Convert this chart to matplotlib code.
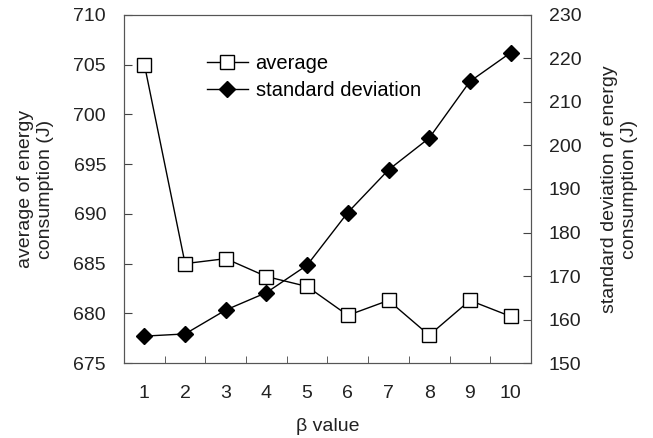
import matplotlib.pyplot as plt
import numpy as np

plt.rcParams['font.family'] = ['Liberation Sans', 'DejaVu Sans']

beta = [1, 2, 3, 4, 5, 6, 7, 8, 9, 10]
avg_energy = [705.0, 685.0, 685.5, 683.7, 682.7, 679.8, 681.3, 677.8, 681.3, 679.7]
std_energy = [156.2, 156.7, 162.2, 166.2, 172.5, 184.6, 194.4, 201.7, 214.7, 221.3]

fig = plt.figure(figsize=(6.53, 4.38), dpi=100)
ax = fig.add_axes([0.19, 0.171, 0.623, 0.795])
ax2 = ax.twinx()

l1, = ax.plot(beta, avg_energy, color='black', lw=1, marker='s', ms=10,
              mfc='white', mec='black', mew=1, label='average')
l2, = ax2.plot(beta, std_energy, color='black', lw=1, marker='D', ms=8,
               mfc='black', mec='black', label='standard deviation')

ax.set_xlim(0.5, 10.5)
ax.set_ylim(675, 710)
ax2.set_ylim(150, 230)
ax.set_yticks(np.arange(675, 711, 5))
ax2.set_yticks(np.arange(150, 231, 10))
ax.set_xticks(beta)
ax.set_xticks(np.arange(1.5, 10, 1), minor=True)
ax.tick_params(axis='x', which='major', length=0, pad=16)
ax.tick_params(axis='x', which='minor', direction='in', length=5, color='#444444')
ax.tick_params(axis='y', direction='in', length=6, color='#444444', pad=13)
ax2.tick_params(axis='y', direction='in', length=6, color='#444444', pad=13)
for a in (ax, ax2):
    a.tick_params(labelsize=14, labelcolor='#222222')
    for s in a.spines.values():
        s.set_color('#555555')

ax.set_xlabel('β value', fontsize=14, color='#222222', labelpad=11)
ax.set_ylabel('average of energy\nconsumption (J)', fontsize=14, color='#222222', labelpad=14)
ax2.set_ylabel('standard deviation of energy\nconsumption (J)', fontsize=14, color='#222222',
               rotation=90, labelpad=14)

ax.legend([l1, l2], ['average', 'standard deviation'], loc='upper left',
          bbox_to_anchor=(0.16, 0.94), frameon=False, fontsize=14.5,
          handlelength=2.0, handletextpad=0.4, labelspacing=0.4)

fig.savefig('out.png', dpi=100)
